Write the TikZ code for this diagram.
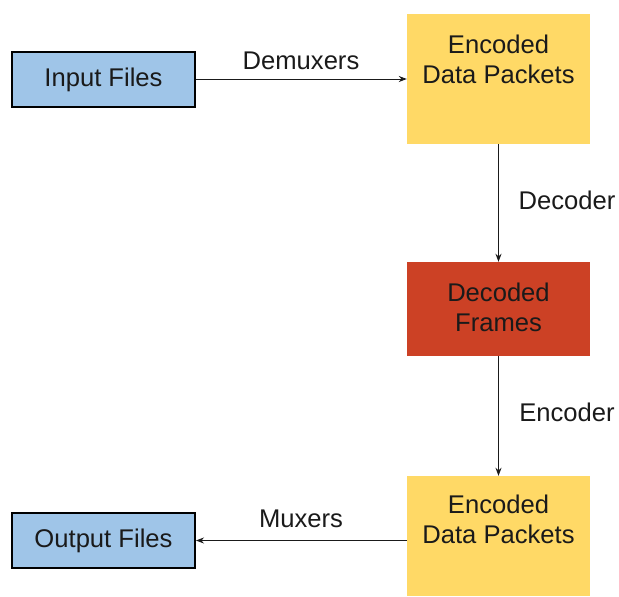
\documentclass[tikz,border=0pt]{standalone}
\usepackage{fontspec}
\setmainfont{Liberation Sans}
\usetikzlibrary{arrows.meta}
\definecolor{boxblue}{HTML}{9FC5E8}
\definecolor{boxyellow}{HTML}{FFD966}
\definecolor{boxred}{HTML}{CC4125}
\definecolor{ink}{HTML}{1A1A1A}
\begin{document}
\begin{tikzpicture}[x=1pt,y=-1pt,
  every node/.style={font=\fontsize{25.6}{30}\selectfont, text=ink, inner sep=0pt},
  bluebox/.style={draw=black, line width=2pt, fill=boxblue, minimum width=183pt, minimum height=55pt},
  yellowbox/.style={fill=boxyellow, minimum width=183pt},
  redbox/.style={fill=boxred, minimum width=183pt, minimum height=94pt},
  lbl/.style={align=center},
  conn/.style={draw=ink, line width=0.9pt, -{Stealth[length=8pt,width=6pt]}}
]
\useasboundingbox (0,0) rectangle (619,597);
\node[bluebox] (in) at (103.5,79) {};
\node[lbl] (intxt) at (103.5,80) {Input Files};
\node[yellowbox, minimum height=130pt] (edp1) at (498.5,79) {};
\node[lbl] (edp1t) at (498.5,59) {Encoded\\Data Packets};
\node[redbox] (df) at (498.5,309) {};
\node[lbl] (dft) at (498.5,307) {Decoded\\Frames};
\node[yellowbox, minimum height=120pt] (edp2) at (498.5,536) {};
\node[lbl] (edp2t) at (498.5,519) {Encoded\\Data Packets};
\node[bluebox] (out) at (103.5,540.5) {};
\node[lbl] (outtxt) at (103.5,541) {Output Files};

\draw[conn] (in.east) -- (in.east -| edp1.west);
\draw[conn] (edp1.south) -- (df.north);
\draw[conn] (df.south) -- (edp2.north);
\draw[conn] (edp2.west |- out.east) -- (out.east);

\node (demux) at (301,61) {Demuxers};
\node (dec) at (567,200) {Decoder};
\node (enc) at (567,412) {Encoder};
\node (mux) at (301,519) {Muxers};
\end{tikzpicture}
\end{document}
